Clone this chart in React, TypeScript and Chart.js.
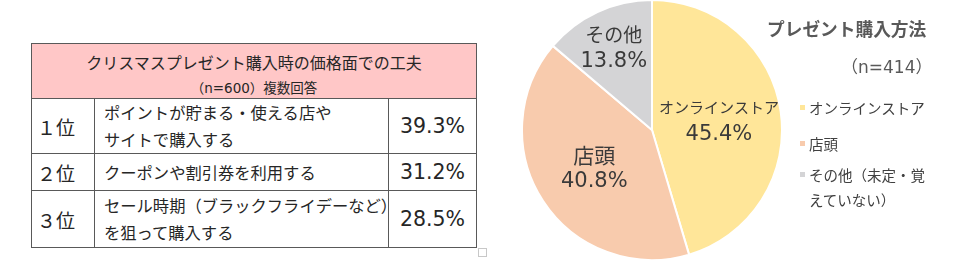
import React, { useEffect, useRef } from "react";
import { Chart, registerables } from "chart.js";

Chart.register(...registerables);

// ---- pie data ----
const pieTitle = "プレゼント購入方法";
const pieN = "（n=414）";
const pieLabels = ["オンラインストア", "店頭", "その他"];
const pieLegendLabels = ["オンラインストア", "店頭", "その他（未定・覚\nえていない）"];
const pieValues = [45.4, 40.8, 13.8];
const pieColors = ["#FFE699", "#F8CBAD", "#D4D4D6"];
const labelFontSizes = [15, 21, 19];
const labelRadiusFactors = [0.52, 0.53, 0.7];

// ---- table data ----
const tableTitle = "クリスマスプレゼント購入時の価格面での工夫";
const tableSub = "（n=600）複数回答";
const ranks = ["１位", "２位", "３位"];
const items = [
  "ポイントが貯まる・使える店や\nサイトで購入する",
  "クーポンや割引券を利用する",
  "セール時期（ブラックフライデーなど）\nを狙って購入する",
];
const shares = ["39.3%", "31.2%", "28.5%"];

const FONT = "'Noto Sans CJK JP', 'Noto Sans', sans-serif";
const NUMFONT = "'DejaVu Sans', 'Noto Sans CJK JP', sans-serif";
const TXT = "#3a3a3a";

const labelPlugin = {
  id: "pieLabels",
  afterDatasetsDraw(chart: any) {
    const ctx = chart.ctx;
    const meta = chart.getDatasetMeta(0);
    meta.data.forEach((arc: any, i: number) => {
      const mid = (arc.startAngle + arc.endAngle) / 2;
      const r = arc.outerRadius * labelRadiusFactors[i];
      const x = arc.x + Math.cos(mid) * r;
      const y = arc.y + Math.sin(mid) * r;
      ctx.save();
      ctx.fillStyle = TXT;
      ctx.textAlign = "center";
      ctx.textBaseline = "middle";
      ctx.font = `${labelFontSizes[i]}px ${FONT}`;
      ctx.fillText(pieLabels[i], x, y - 13);
      ctx.font = `21px ${NUMFONT}`;
      ctx.fillText(pieValues[i].toFixed(1) + "%", x, y + 14);
      ctx.restore();
    });
  },
};

function PieChart() {
  const ref = useRef<HTMLCanvasElement>(null);
  useEffect(() => {
    if (!ref.current) return;
    const chart = new Chart(ref.current, {
      type: "pie",
      data: {
        labels: pieLabels,
        datasets: [
          {
            data: pieValues,
            backgroundColor: pieColors,
            borderColor: "#ffffff",
            borderWidth: 2,
          },
        ],
      },
      options: {
        animation: false,
        responsive: false,
        maintainAspectRatio: false,
        layout: { padding: 0 },
        plugins: { legend: { display: false }, tooltip: { enabled: false } },
      },
      plugins: [labelPlugin],
    });
    return () => chart.destroy();
  }, []);
  return (
    <canvas
      ref={ref}
      width={264}
      height={262}
      style={{ position: "absolute", left: 520, top: -1, width: 264, height: 262 }}
    />
  );
}

const cell = (style: React.CSSProperties): React.CSSProperties => ({
  position: "absolute",
  boxSizing: "border-box",
  display: "flex",
  alignItems: "center",
  color: "#262626",
  fontFamily: FONT,
  ...style,
});

export default function App() {
  const rowTops = [98, 153, 190];
  const rowHeights = [55, 37, 57];
  const colX = [31, 94, 388, 477];
  return (
    <div
      style={{
        position: "fixed",
        left: 0,
        top: 0,
        width: 960,
        height: 260,
        background: "#ffffff",
        overflow: "hidden",
        fontFamily: FONT,
      }}
    >
      {/* table */}
      <div
        style={cell({
          left: 31,
          top: 43,
          width: 446,
          height: 55,
          background: "#FFC7C7",
          flexDirection: "column",
          justifyContent: "flex-start",
          paddingTop: 5,
          border: "1px solid #595959",
          borderBottom: "none",
        })}
      >
        <div style={{ fontSize: 16, lineHeight: "26px", whiteSpace: "nowrap" }}>{tableTitle}</div>
        <div
          style={{
            fontSize: 13.5,
            lineHeight: "22px",
            marginTop: 2,
            fontFamily: NUMFONT,
            whiteSpace: "nowrap",
          }}
        >
          {tableSub}
        </div>
      </div>
      {ranks.map((rk, i) => (
        <React.Fragment key={i}>
          <div
            style={cell({
              left: colX[0],
              top: rowTops[i],
              width: colX[1] - colX[0] + 1,
              height: rowHeights[i] + 1,
              border: "1px solid #595959",
              paddingLeft: 5,
              fontSize: 19,
            })}
          >
            {rk}
          </div>
          <div
            style={cell({
              left: colX[1],
              top: rowTops[i],
              width: colX[2] - colX[1] + 1,
              height: rowHeights[i] + 1,
              border: "1px solid #595959",
              paddingLeft: 9,
              fontSize: 16.3,
              lineHeight: "27px",
              whiteSpace: "pre",
            })}
          >
            {items[i]}
          </div>
          <div
            style={cell({
              left: colX[2],
              top: rowTops[i],
              width: colX[3] - colX[2],
              height: rowHeights[i] + 1,
              border: "1px solid #595959",
              justifyContent: "center",
              fontSize: 20.5,
              fontFamily: NUMFONT,
            })}
          >
            {shares[i]}
          </div>
        </React.Fragment>
      ))}
      <div
        style={{
          position: "absolute",
          left: 478,
          top: 248,
          width: 9,
          height: 9,
          border: "1px solid #c8c8c8",
          boxSizing: "border-box",
        }}
      />

      {/* pie */}
      <PieChart />

      {/* title + legend */}
      <div
        style={{
          position: "absolute",
          left: 767,
          top: 16,
          fontSize: 17.7,
          fontWeight: 700,
          color: "#595959",
          lineHeight: "24px",
          whiteSpace: "nowrap",
        }}
      >
        {pieTitle}
      </div>
      <div
        style={{
          position: "absolute",
          left: 841,
          top: 55,
          fontSize: 17,
          fontFamily: NUMFONT,
          color: "#595959",
          lineHeight: "24px",
          whiteSpace: "nowrap",
        }}
      >
        {pieN}
      </div>
      {pieLegendLabels.map((lb, i) => (
        <div
          key={i}
          style={{
            position: "absolute",
            left: 800,
            top: [95, 131, 162][i],
            display: "flex",
            alignItems: "flex-start",
          }}
        >
          <div
            style={{
              width: 5,
              height: 5,
              background: pieColors[i],
              marginTop: 10,
              marginRight: 4,
            }}
          />
          <div
            style={{
              fontSize: 14.5,
              color: "#404040",
              lineHeight: "25px",
              whiteSpace: "pre",
            }}
          >
            {lb}
          </div>
        </div>
      ))}
    </div>
  );
}
